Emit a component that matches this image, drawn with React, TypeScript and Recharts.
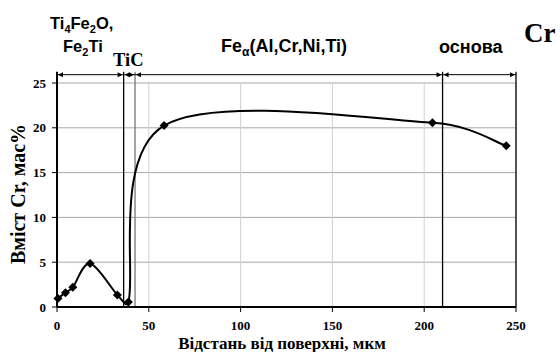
import React from "react"
import { ComposedChart, Line, XAxis, YAxis, CartesianGrid, ReferenceLine } from "recharts"

// Cr profile measured from the surface
const distance = [0.5, 4.6, 8.6, 18, 32.9, 38.9, 58.3, 204.5, 244.7]
const crContent = [0.95, 1.6, 2.2, 4.85, 1.35, 0.55, 20.25, 20.55, 18.0]

const xTicks = [0, 50, 100, 150, 200, 250]
const yTicks = [0, 5, 10, 15, 20, 25]

// phase zone borders, µm
const zoneBounds = [0, 36.3, 42.5, 210, 250]
const zoneBoundColors = ["#000", "#000", "#777", "#000", "#000"]
const arrowLevel = 25.93
const boundTop = 26.25

const data = distance.map((d, i) => ({ d, cr: crContent[i] }))

const W = 560
const H = 352

// Bezier smoothing through every point (Catmull-Rom, 1/6 tangents),
// control arms are capped so short segments do not overshoot
function smoothCurve(context: any) {
  let pts: number[][] = []
  const arm = (from: number[], dx: number, dy: number, segLen: number) => {
    const l = Math.hypot(dx, dy)
    const k = l > segLen * 0.5 && l > 0 ? (segLen * 0.5) / l : 1
    return [from[0] + dx * k, from[1] + dy * k]
  }
  return {
    areaStart() {},
    areaEnd() {},
    lineStart() {
      pts = []
    },
    point(x: number, y: number) {
      pts.push([+x, +y])
    },
    lineEnd() {
      if (!pts.length) return
      context.moveTo(pts[0][0], pts[0][1])
      for (let i = 0; i < pts.length - 1; i++) {
        const p0 = pts[i - 1] || pts[i]
        const p1 = pts[i]
        const p2 = pts[i + 1]
        const p3 = pts[i + 2] || p2
        const seg = Math.hypot(p2[0] - p1[0], p2[1] - p1[1])
        const c1 = arm(p1, (p2[0] - p0[0]) / 6, (p2[1] - p0[1]) / 6, seg)
        const c2 = arm(p2, -(p3[0] - p1[0]) / 6, -(p3[1] - p1[1]) / 6, seg)
        context.bezierCurveTo(c1[0], c1[1], c2[0], c2[1], p2[0], p2[1])
      }
    },
  }
}

function Diamond(props: any) {
  const { cx, cy, index } = props
  if (cx == null || cy == null) return <g key={`dot-${index}`} />
  const r = 4.5
  return (
    <path
      key={`dot-${index}`}
      d={`M${cx},${cy - r}L${cx + r},${cy}L${cx},${cy + r}L${cx - r},${cy}Z`}
      fill="#000"
    />
  )
}

function DoubleArrow(props: any) {
  const { x1, y1, x2, y2 } = props
  const len = 5
  const hw = 2.5
  return (
    <g>
      <line x1={x1} y1={y1} x2={x2} y2={y2} stroke="#000" strokeWidth={1} />
      <path d={`M${x1 + 1},${y1}L${x1 + 1 + len},${y1 - hw}L${x1 + 1 + len},${y1 + hw}Z`} fill="#000" />
      <path d={`M${x2 - 1},${y2}L${x2 - 1 - len},${y2 - hw}L${x2 - 1 - len},${y2 + hw}Z`} fill="#000" />
    </g>
  )
}

const serif = "Liberation Serif, Times New Roman, serif"
const sans = "Liberation Sans, Arial, sans-serif"
const tickStyle = { fontFamily: serif, fontWeight: 700, fontSize: 13, fill: "#000" }

export default function App() {
  return (
    <div style={{ position: "absolute", left: 0, top: 0, width: W, height: H, background: "#fff" }}>
      <ComposedChart width={W} height={H} data={data} margin={{ top: 83, right: 44, left: 17, bottom: 15 }}>
        <CartesianGrid vertical={false} stroke="#a8a8a8" />
        <CartesianGrid horizontal={false} stroke="#d0d0d0" />
        <XAxis
          type="number"
          dataKey="d"
          domain={[0, 250]}
          ticks={xTicks}
          height={30}
          tick={tickStyle}
          tickSize={5}
          tickMargin={9}
          axisLine={{ stroke: "#000", strokeWidth: 2 }}
          tickLine={{ stroke: "#000" }}
        />
        <YAxis
          type="number"
          domain={[0, 25]}
          ticks={yTicks}
          width={40}
          tick={tickStyle}
          tickSize={5}
          tickMargin={6}
          axisLine={{ stroke: "#000", strokeWidth: 2 }}
          tickLine={{ stroke: "#000" }}
        />
        {zoneBounds.map((b, i) => (
          <ReferenceLine
            key={`bound-${b}`}
            segment={[{ x: b, y: boundTop }, { x: b, y: 0 }]}
            ifOverflow="visible"
            stroke={zoneBoundColors[i]}
            strokeWidth={i === 0 ? 2 : 1.3}
          />
        ))}
        {zoneBounds.slice(0, -1).map((b, i) => (
          <ReferenceLine
            key={`zone-${b}`}
            segment={[{ x: b, y: arrowLevel }, { x: zoneBounds[i + 1], y: arrowLevel }]}
            ifOverflow="visible"
            shape={DoubleArrow}
          />
        ))}
        <Line
          dataKey="cr"
          type={smoothCurve as any}
          stroke="#000"
          strokeWidth={2}
          dot={Diamond}
          activeDot={false}
          isAnimationActive={false}
        />
      </ComposedChart>
      <svg width={W} height={H} style={{ position: "absolute", left: 0, top: 0, pointerEvents: "none" }}>
        <text x={50} y={29} fontFamily={sans} fontWeight={700} fontSize={16.5}>
          Ti<tspan fontSize={11} dy={4}>4</tspan>
          <tspan dy={-4}>Fe</tspan>
          <tspan fontSize={11} dy={4}>2</tspan>
          <tspan dy={-4}>O,</tspan>
        </text>
        <text x={63} y={52} fontFamily={sans} fontWeight={700} fontSize={16.5}>
          Fe<tspan fontSize={11} dy={4}>2</tspan>
          <tspan dy={-4}>Ti</tspan>
        </text>
        <text x={113} y={66} fontFamily={serif} fontWeight={700} fontSize={18.5}>
          TiC
        </text>
        <text x={221} y={52} fontFamily={sans} fontWeight={700} fontSize={18}>
          Fe<tspan fontSize={12} dy={4}>α</tspan>
          <tspan dy={-4}>(Al,Cr,Ni,Ti)</tspan>
        </text>
        <text x={439} y={53} fontFamily={sans} fontWeight={700} fontSize={18}>
          основа
        </text>
        <text x={524} y={42} fontFamily={serif} fontWeight={700} fontSize={27}>
          Cr
        </text>
        <text x={282} y={349} textAnchor="middle" fontFamily={serif} fontWeight={700} fontSize={17}>
          Відстань від поверхні, мкм
        </text>
        <text
          x={0}
          y={0}
          transform="translate(25,194) rotate(-90)"
          textAnchor="middle"
          fontFamily={serif}
          fontWeight={700}
          fontSize={20}
        >
          Вміст Cr, мас%
        </text>
      </svg>
    </div>
  )
}
